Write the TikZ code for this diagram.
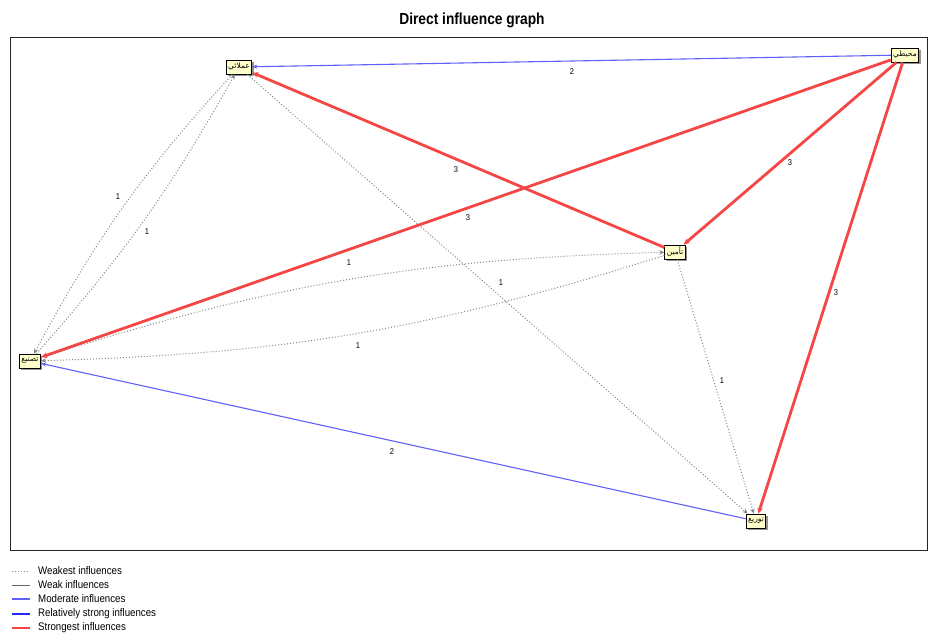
\documentclass[tikz,border=0pt]{standalone}
\usepackage{fontspec}
\setmainfont{Liberation Sans}
\newfontfamily\narrowfont[FakeStretch=0.88]{Liberation Sans}
\newfontfamily\titlefont[FakeStretch=0.86]{Liberation Sans}
\newfontfamily\arabicfont[Script=Arabic]{DejaVu Sans}
\TeXXeTstate=1
\usetikzlibrary{arrows.meta,shadows}
\definecolor{infred}{RGB}{245,70,70}
\definecolor{infblue}{RGB}{95,95,250}
\definecolor{infgray}{RGB}{135,135,135}
\definecolor{weakgray}{RGB}{100,100,100}
\definecolor{boxfill}{RGB}{255,255,204}
\begin{document}
\begin{tikzpicture}[x=1pt,y=-1pt,
  var/.style={draw=black, line width=0.9pt, fill=boxfill, inner xsep=2pt, inner ysep=1pt,
    minimum height=14pt, font=\arabicfont\fontsize{7.5}{8}\selectfont,
    drop shadow={shadow xshift=1.8pt, shadow yshift=-1.8pt, fill=gray!85, opacity=1}},
  strongest/.style={draw=infred, line width=2.8pt, -{Stealth[length=6pt,width=5.5pt]}},
  moderate/.style={draw=infblue, line width=1.1pt, -{Stealth[length=5pt,width=4pt]}},
  weakest/.style={draw=infgray, line width=1pt, dotted, -{Stealth[length=5pt,width=4.5pt]}},
  lbl/.style={font=\narrowfont\fontsize{8.5}{9}\selectfont, inner sep=0pt},
  legtext/.style={font=\narrowfont\fontsize{11}{12}\selectfont, anchor=west, inner sep=0pt},
]
\useasboundingbox (0,0) rectangle (929,633);
\node (title) at (472,20) {\titlefont\bfseries\fontsize{16}{18}\selectfont Direct influence graph};
\draw[line width=0.9pt, black!85] (10,37) rectangle (927,550);

% variables
\node[var] (A) at (239,67) {\beginR عملائي\endR};
\node[var] (B) at (905,55) {\beginR محيطي\endR};
\node[var] (C) at (675,252) {\beginR تأمين\endR};
\node[var] (D) at (30,361) {\beginR تصنيع\endR};
\node[var] (E) at (756,521) {\beginR توزيع\endR};

% weakest influences
\draw[weakest] (A) to[bend right=7] (D);
\draw[weakest] (D) to[bend right=6] (A);
\draw[weakest] (D) to[bend left=8] (C);
\draw[weakest] (C) to[bend left=8] (D);
\draw[weakest] (A) -- (E);
\draw[weakest] (C) -- (E);

% moderate influences
\draw[moderate] (B) -- (A);
\draw[moderate] (E) -- (D);

% strongest influences
\draw[strongest] (B) -- (D);
\draw[strongest] (B) -- (C);
\draw[strongest] (B) -- (E);
\draw[strongest] (C) -- (A);

% edge labels
\node[lbl] (lBA) at (572,72) {2};
\node[lbl] (lBD) at (468,218) {3};
\node[lbl] (lBC) at (790,163) {3};
\node[lbl] (lBE) at (836,293) {3};
\node[lbl] (lCA) at (456,170) {3};
\node[lbl] (lED) at (392,452) {2};
\node[lbl] (lAE) at (501,283) {1};
\node[lbl] (lCE) at (722,381) {1};
\node[lbl] (lAD1) at (118,197) {1};
\node[lbl] (lAD2) at (147,232) {1};
\node[lbl] (lDC1) at (349,263) {1};
\node[lbl] (lDC2) at (358,346) {1};

% legend
\draw[infgray, line width=1pt, dotted] (12,571) -- (30,571);
\draw[weakgray, line width=1pt] (12,585) -- (30,585);
\draw[infblue, line width=1.1pt] (12,599) -- (30,599);
\draw[blue!85, line width=2.4pt] (12,614) -- (30,614);
\draw[infred, line width=2.8pt] (12,628) -- (30,628);
\node[legtext] (g1) at (38,571) {Weakest influences};
\node[legtext] (g2) at (38,585) {Weak influences};
\node[legtext] (g3) at (38,599) {Moderate influences};
\node[legtext] (g4) at (38,614) {Relatively strong influences};
\node[legtext] (g5) at (38,628) {Strongest influences};
\end{tikzpicture}
\end{document}
